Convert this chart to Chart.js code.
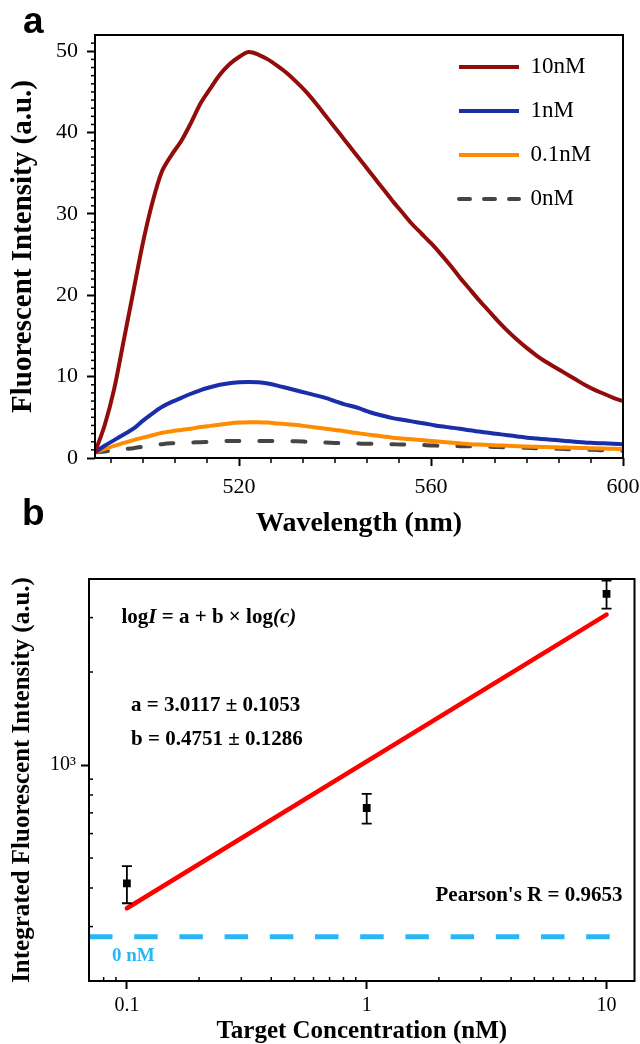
<!DOCTYPE html>
<html><head><meta charset="utf-8">
<script src="https://cdn.jsdelivr.net/npm/chart.js@4.4.1/dist/chart.umd.min.js"></script>
<style>
html,body{margin:0;padding:0;background:#fff;}
body{width:640px;height:1044px;overflow:hidden;position:relative;}
.panel{position:absolute;font:bold 37px "Liberation Sans",Arial,sans-serif;line-height:37px;color:#000;z-index:2}
canvas{position:absolute;left:0}
</style></head><body>
<div class="panel" style="left:23px;top:2px">a</div>
<div class="panel" style="left:22px;top:494px">b</div>
<canvas id="ca" width="640" height="545" style="top:0"></canvas>
<canvas id="cb" width="640" height="505" style="top:545px"></canvas>
<script>
// ---------- Panel a data ----------
const wavelength = [490,492,494,496,498,500,502,504,506,508,
  510,512,514,516,518,520,522,524,526,528,
  530,532,534,536,538,540,542,544,546,548,
  550,552,554,556,558,560,562,564,566,568,
  570,572,574,576,578,580,582,584,586,588,
  590,592,594,596,598,600];
const seriesLabels = ['10nM','1nM','0.1nM','0nM'];
const int10nM = [0.7,4,8.5,14.5,20.5,26.5,31.5,35.3,37.3,39,
  41.2,43.6,45.4,47.1,48.4,49.3,49.9,49.6,49.0,48.2,
  47.3,46.2,45.0,43.6,42.1,40.6,39.1,37.6,36.1,34.6,
  33.1,31.6,30.2,28.8,27.6,26.4,25.1,23.7,22.2,20.8,
  19.4,18.1,16.8,15.6,14.5,13.5,12.6,11.8,11.1,10.4,
  9.7,9.0,8.4,7.9,7.4,7.0];
const int1nM = [0.7,1.5,2.2,2.9,3.6,4.6,5.5,6.3,6.9,7.4,
  7.9,8.35,8.7,9.0,9.2,9.3,9.35,9.3,9.15,8.9,
  8.6,8.3,8.0,7.7,7.4,7.0,6.6,6.3,5.9,5.5,
  5.2,4.9,4.7,4.5,4.3,4.1,3.9,3.75,3.6,3.4,
  3.25,3.1,2.95,2.8,2.65,2.5,2.4,2.3,2.2,2.1,
  2.0,1.9,1.85,1.8,1.75,1.7];
const int01nM = [0.7,1.1,1.5,1.85,2.2,2.5,2.8,3.1,3.3,3.45,
  3.6,3.8,3.95,4.1,4.25,4.35,4.4,4.4,4.35,4.25,
  4.15,4.05,3.9,3.75,3.6,3.45,3.3,3.1,2.95,2.8,
  2.65,2.5,2.4,2.3,2.2,2.1,2.0,1.9,1.8,1.7,
  1.65,1.6,1.55,1.5,1.45,1.4,1.38,1.35,1.32,1.28,
  1.25,1.22,1.19,1.16,1.13,1.1];
const int0nM = [0.7,0.8,0.95,1.1,1.2,1.4,1.55,1.7,1.8,1.85,
  1.9,1.95,2.0,2.05,2.1,2.1,2.1,2.1,2.1,2.1,
  2.05,2.05,2.0,1.95,1.9,1.85,1.8,1.8,1.75,1.75,
  1.7,1.7,1.65,1.65,1.6,1.55,1.5,1.5,1.45,1.45,
  1.4,1.4,1.35,1.3,1.25,1.25,1.2,1.2,1.15,1.1,
  1.05,1.05,1.0,0.95,0.95,0.9];
const xTicksA = [520,560,600];
const yTicksA = [0,10,20,30,40,50];

// ---------- Panel b data ----------
const concentration = [0.1,1,10];
const intensity = [414,726,3580];
const intensityErr = [57,80,370];
const fitX = [0.1,10];
const fitY = [344,3068];
const zeroX = [0.0695,10.6];
const zeroLevel = 278;
const xTicksB = [0.1,1,10];
const xTickLabelsB = ['0.1','1','10'];
const yTicksB = [1000];
const yTickLabelsB = ['10³'];
const equationParts = [{t:'log',it:false},{t:'I',it:true},{t:' = a + b × log',it:false},{t:'(c)',it:true}];
const paramA = 'a = 3.0117 ± 0.1053';
const paramB = 'b = 0.4751 ± 0.1286';
const pearson = "Pearson's R = 0.9653";
const zeroLabel = '0 nM';

const serif = '"Liberation Serif","Times New Roman",serif';
Chart.defaults.font.family = serif;
Chart.defaults.color = '#000';

function frame(minorX, minorY, inward, lenX, lenY) {
  return { id:'frame', afterDraw(chart) {
    const {ctx, chartArea:a} = chart;
    const xs = chart.scales.x, ys = chart.scales.y;
    ctx.save();
    ctx.strokeStyle = '#000';
    ctx.lineWidth = 1.5;
    const dir = inward ? -1 : 1;
    minorX.forEach(v => {
      const p = xs.getPixelForValue(v);
      if (p < a.left + 1 || p > a.right - 1) return;
      ctx.beginPath(); ctx.moveTo(p, a.bottom); ctx.lineTo(p, a.bottom + dir*lenX); ctx.stroke();
    });
    minorY.forEach(v => {
      const p = ys.getPixelForValue(v);
      if (p < a.top + 1 || p > a.bottom - 1) return;
      ctx.beginPath(); ctx.moveTo(a.left, p); ctx.lineTo(a.left - dir*lenY, p); ctx.stroke();
    });
    ctx.lineWidth = 2;
    ctx.strokeRect(a.left, a.top, a.right - a.left, a.bottom - a.top);
    ctx.restore();
  }};
}

// minor tick values
const minorXA = []; for (let k = 0; k <= 18; k++) { const v = 480 + k*40/6; if (Math.abs(v/40 - Math.round(v/40)) > 1e-6) minorXA.push(v); }
const minorYA = []; for (let v = 1; v < 52; v++) if (v % 10) minorYA.push(v);
const minorXB = []; [0.01,0.1,1,10].forEach(d => { for (let m = 2; m <= 9; m++) minorXB.push(m*d); });
const minorYB = []; [100,1000].forEach(d => { for (let m = 2; m <= 9; m++) minorYB.push(m*d); });

const legendMover = { id:'legendMover', afterLayout(chart) {
  const lg = chart.legend; if (!lg) return;
  const w = lg.width;
  lg.left = chart.chartArea.right - 185; lg.top = chart.chartArea.top - 0.5;
  lg.right = lg.left + w; lg.bottom = lg.top + 400;
}};

const pts = arr => wavelength.map((w,i) => ({x:w, y:arr[i]}));
const colorsA = ['#920c0c','#1a2eaa','#ff8c00','#454545'];
const seriesA = [int10nM,int1nM,int01nM,int0nM];
const tickGrid = {display:true, drawOnChartArea:false, drawTicks:true, tickLength:8, tickWidth:2, tickColor:'#000'};
const fitX_A = s => { s.height = 87; s.paddingLeft = 0; s.paddingRight = 0; };
const fitX_B = s => { s.height = 69; s.paddingLeft = 0; s.paddingRight = 0; };

new Chart(document.getElementById('ca'), {
  type:'line',
  data:{ datasets: seriesA.map((arr,i) => ({
    label: seriesLabels[i], data: pts(arr), borderColor: colorsA[i], backgroundColor: colorsA[i],
    borderWidth: 4, pointRadius: 0, tension: 0.3, borderCapStyle: i===3 ? 'round' : 'butt', borderJoinStyle:'round',
    borderDash: i===3 ? [13,20] : [], order: i===3 ? 4 : i
  }))},
  options:{
    responsive:false, animation:false, events:[],
    layout:{padding:{top:35,right:17,left:0,bottom:0}},
    scales:{
      x:{type:'linear', min:490, max:600,
        afterBuildTicks: s => { s.ticks = xTicksA.map(v => ({value:v})); },
        afterFit: fitX_A,
        ticks:{font:{size:22}, color:'#000', padding:8, maxRotation:0, autoSkip:false, callback: v => String(v)},
        grid: tickGrid, border:{display:false},
        title:{display:true, text:'Wavelength (nm)', color:'#000', font:{size:28, weight:'bold'}, padding:{top:0,bottom:4}}
      },
      y:{type:'linear', min:0, max:52,
        afterBuildTicks: s => { s.ticks = yTicksA.map(v => ({value:v})); },
        afterFit: s => { s.width = 95; },
        ticks:{font:{size:22}, color:'#000', padding:9, autoSkip:false, callback: v => String(v)},
        grid: tickGrid, border:{display:false},
        title:{display:true, text:'Fluorescent Intensity (a.u.)', color:'#000', font:{size:29, weight:'bold'}, padding:{top:6,bottom:0}}
      }
    },
    plugins:{
      tooltip:{enabled:false},
      legend:{ position:'chartArea', align:'start',
        labels:{ usePointStyle:true, pointStyle:'line', pointStyleWidth:60, boxHeight:23, font:{size:23}, color:'#000', padding:21,
          generateLabels(chart) {
            const items = Chart.defaults.plugins.legend.labels.generateLabels(chart);
            items.forEach(it => {
              const ds = chart.data.datasets[it.datasetIndex];
              it.strokeStyle = ds.borderColor; it.lineWidth = 4;
              it.lineDash = (ds.borderDash && ds.borderDash.length) ? [11,14] : [];
              it.lineCap = (ds.borderDash && ds.borderDash.length) ? 'round' : 'butt';
            });
            items.sort((p,q) => p.datasetIndex - q.datasetIndex);
            return items;
          }
        }
      }
    }
  },
  plugins:[frame(minorXA, minorYA, false, 5, 4), legendMover]
});

// ---------- Panel b ----------
const errorBars = { id:'errorBars', afterDatasetsDraw(chart) {
  const {ctx} = chart; const xs = chart.scales.x, ys = chart.scales.y;
  ctx.save(); ctx.strokeStyle = '#000'; ctx.lineWidth = 1.8;
  concentration.forEach((c,i) => {
    const px = xs.getPixelForValue(c);
    const hi = ys.getPixelForValue(intensity[i] + intensityErr[i]);
    const lo = ys.getPixelForValue(intensity[i] - intensityErr[i]);
    ctx.beginPath();
    ctx.moveTo(px, hi); ctx.lineTo(px, lo);
    ctx.moveTo(px-5, hi); ctx.lineTo(px+5, hi);
    ctx.moveTo(px-5, lo); ctx.lineTo(px+5, lo);
    ctx.stroke();
  });
  ctx.restore();
}};

const annotations = { id:'annotations', afterDraw(chart) {
  const {ctx, chartArea:a} = chart;
  ctx.save(); ctx.fillStyle = '#000'; ctx.textBaseline = 'middle'; ctx.textAlign = 'left';
  const bold = 'bold 21px ' + serif, boldIt = 'italic bold 21px ' + serif;
  let x = a.left + 32.5; const y1 = a.top + 39;
  equationParts.forEach(p => { ctx.font = p.it ? boldIt : bold; ctx.fillText(p.t, x, y1); x += ctx.measureText(p.t).width; });
  ctx.font = bold;
  ctx.fillText(paramA, a.left + 42, a.top + 126.5);
  ctx.fillText(paramB, a.left + 42, a.top + 161);
  ctx.textAlign = 'right';
  ctx.fillText(pearson, a.right - 12, a.top + 317);
  ctx.textAlign = 'left';
  ctx.fillStyle = '#29b6f6'; ctx.font = 'bold 19px ' + serif;
  ctx.fillText(zeroLabel, a.left + 23, a.top + 377);
  ctx.restore();
}};

new Chart(document.getElementById('cb'), {
  type:'scatter',
  data:{ datasets:[
    { label:'Integrated intensity', data: concentration.map((c,i) => ({x:c, y:intensity[i]})),
      pointStyle:'rect', pointRadius:5.5, backgroundColor:'#000', borderColor:'#000', borderWidth:0, order:0 },
    { label:'Linear fit', data: fitX.map((c,i) => ({x:c, y:fitY[i]})), showLine:true,
      borderColor:'#ff0000', backgroundColor:'#ff0000', borderWidth:4.5, pointRadius:0, borderCapStyle:'round', order:1 },
    { label:zeroLabel, data: zeroX.map(c => ({x:c, y:zeroLevel})), showLine:true,
      borderColor:'#29b6f6', backgroundColor:'#29b6f6', borderWidth:5, borderDash:[23.5,21.7], pointRadius:0, order:2 }
  ]},
  options:{
    responsive:false, animation:false, events:[],
    layout:{padding:{top:34,right:5,left:0,bottom:0}},
    scales:{
      x:{type:'logarithmic', min:0.0695, max:13.08,
        afterBuildTicks: s => { s.ticks = xTicksB.map(v => ({value:v})); },
        afterFit: fitX_B,
        ticks:{font:{size:20}, color:'#000', padding:5, maxRotation:0, autoSkip:false, callback:(v,i) => xTickLabelsB[i]},
        grid: tickGrid, border:{display:false},
        title:{display:true, text:'Target Concentration (nM)', color:'#000', font:{size:25, weight:'bold'}, padding:{top:0,bottom:3}}
      },
      y:{type:'logarithmic', min:200, max:4000,
        afterBuildTicks: s => { s.ticks = yTicksB.map(v => ({value:v})); },
        afterFit: s => { s.width = 89; },
        ticks:{font:{size:20}, color:'#000', padding:5, autoSkip:false, callback:(v,i) => yTickLabelsB[i]},
        grid: tickGrid, border:{display:false},
        title:{display:true, text:'Integrated Fluorescent Intensity (a.u.)', color:'#000', font:{size:25, weight:'bold'}, padding:{top:8,bottom:0}}
      }
    },
    plugins:{ legend:{display:false}, tooltip:{enabled:false} }
  },
  plugins:[frame(minorXB, minorYB, true, 4, 4), errorBars, annotations]
});
</script>
</body></html>
